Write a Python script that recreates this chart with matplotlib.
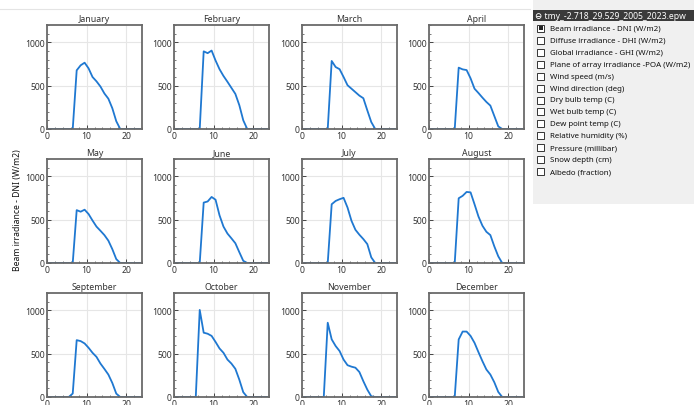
import numpy as np
import matplotlib

matplotlib.use("Agg")
import matplotlib.pyplot as plt
from matplotlib.patches import Rectangle
from matplotlib.ticker import MultipleLocator

plt.rcParams["font.family"] = ["Noto Sans", "DejaVu Sans"]

months = ["January", "February", "March", "April", "May", "June",
          "July", "August", "September", "October", "November", "December"]
hours = np.arange(24) + 0.5

jan = [0] * 7 + [677, 735, 765, 700, 600, 550, 490, 410, 350, 240, 90] + [0] * 6
feb = [0] * 7 + [896, 875, 905, 790, 690, 612, 545, 475, 405, 275, 100] + [0] * 6
mar = [0] * 7 + [785, 715, 690, 600, 505, 465, 425, 385, 355, 215, 80] + [0] * 6
apr = [0] * 7 + [708, 688, 680, 585, 465, 415, 362, 312, 270, 150, 30] + [0] * 6
may = [0] * 7 + [610, 592, 615, 565, 490, 420, 372, 322, 258, 160, 45] + [0] * 6
jun = [0] * 7 + [697, 710, 762, 730, 550, 420, 340, 285, 228, 125, 25] + [0] * 6
jul = [0] * 7 + [678, 716, 736, 752, 640, 487, 383, 326, 276, 218, 65] + [0] * 6
aug = [0] * 7 + [747, 775, 820, 815, 678, 536, 430, 360, 322, 192, 77] + [0] * 6
sep = [0] * 6 + [40, 656, 645, 618, 568, 510, 463, 386, 324, 259, 162, 39] + [0] * 6
oct_ = [0] * 6 + [1005, 742, 730, 705, 635, 560, 510, 432, 386, 325, 200, 55] + [0] * 6
nov = [0] * 6 + [857, 665, 588, 530, 432, 367, 350, 338, 288, 182, 85, 8] + [0] * 6
dec = [0] * 7 + [664, 755, 755, 705, 625, 517, 413, 317, 259, 170, 58] + [0] * 6
dni = [jan, feb, mar, apr, may, jun, jul, aug, sep, oct_, nov, dec]

file_name = "\u2296 tmy_-2.718_29.529_2005_2023.epw"
variables = ["Beam irradiance - DNI (W/m2)", "Diffuse irradiance - DHI (W/m2)",
             "Global irradiance - GHI (W/m2)", "Plane of array irradiance -POA (W/m2)",
             "Wind speed (m/s)", "Wind direction (deg)", "Dry bulb temp (C)",
             "Wet bulb temp (C)", "Dew point temp (C)", "Relative humidity (%)",
             "Pressure (millibar)", "Snow depth (cm)", "Albedo (fraction)"]
checked = [True] + [False] * 12
ylabel = "Beam irradiance - DNI (W/m2)"

W, H = 694, 406
fig = plt.figure(figsize=(W / 100, H / 100), dpi=100)
fig.patch.set_facecolor("white")

# overlay in pixel coords for the window decorations
bg = fig.add_axes([0, 0, 1, 1], zorder=0)
bg.set_xlim(0, W)
bg.set_ylim(H, 0)
bg.axis("off")
bg.plot([0, 530], [10, 10], color="#e4e4e4", lw=0.8)
bg.add_patch(Rectangle((533, 0), W - 533, 205, facecolor="#f0f0f0", edgecolor="none"))
bg.add_patch(Rectangle((533, 11), W - 533, 11, facecolor="#3a3a3a", edgecolor="none"))
bg.text(535, 16.5, file_name, color="white", fontsize=6.2, fontweight="bold",
        va="center", ha="left")
for i, (name, on) in enumerate(zip(variables, checked)):
    y = 29.3 + i * 11.95
    bg.add_patch(Rectangle((537.5, y - 3.5), 7, 7, facecolor="white",
                           edgecolor="#333333", lw=0.7))
    if on:
        bg.add_patch(Rectangle((539, y - 2), 4, 4, facecolor="#222222", edgecolor="none"))
    bg.text(550, y, name, fontsize=5.7, color="#111111", va="center", ha="left")

bg.text(18, 210, ylabel, rotation=90, fontsize=6.2, fontweight="bold",
        va="center", ha="center", color="#111111")

lefts = [47, 174, 302, 429]
tops = [26, 160, 294]
aw, ah = 95, 104

for k, (m, vals) in enumerate(zip(months, dni)):
    r, c = divmod(k, 4)
    ax = fig.add_axes([lefts[c] / W, 1 - (tops[r] + ah) / H, aw / W, ah / H], zorder=2)
    ax.plot(hours, vals, color="#1f78d1", lw=1.3)
    ax.set_xlim(0, 24)
    ax.set_ylim(0, 1200)
    ax.set_xticks([0, 10, 20])
    ax.set_yticks([0, 500, 1000])
    ax.xaxis.set_minor_locator(MultipleLocator(2))
    ax.yaxis.set_minor_locator(MultipleLocator(100))
    ax.grid(True, color="#e6e6e6", lw=0.8)
    ax.set_axisbelow(True)
    ax.tick_params(which="both", direction="in", colors="#444444",
                   labelcolor="#333333", labelsize=6.2, pad=1.5)
    ax.tick_params(which="major", length=3, width=0.7)
    ax.tick_params(which="minor", length=1.5, width=0.5)
    for s in ax.spines.values():
        s.set_color("#6a6a6a")
        s.set_linewidth(1.3)
    ax.set_title(m, fontsize=6.3, color="#333333", pad=3)

fig.savefig("out.png", dpi=100)
